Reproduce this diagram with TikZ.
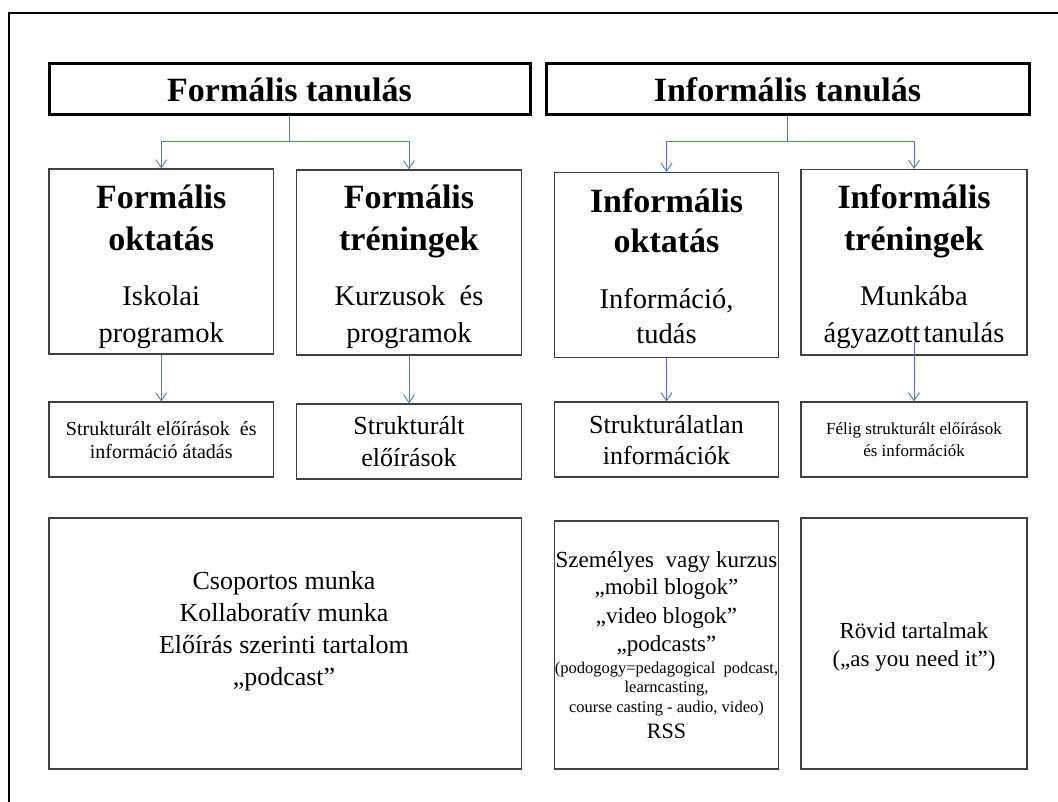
\documentclass[tikz,border=0pt]{standalone}
\usepackage{fontspec}
\setmainfont{Liberation Serif}
\usetikzlibrary{arrows.meta,fit}
\newcommand\fsz[2]{\fontsize{#1}{#2}\selectfont}
\definecolor{boxgray}{HTML}{404040}
\definecolor{arrblue}{HTML}{4A7EBB}
\begin{document}
\begin{tikzpicture}[x=1pt,y=-1pt,
  box/.style={draw=boxgray, line width=1.2pt, inner sep=0pt},
  tbox/.style={draw=black, line width=3pt, inner sep=0pt},
  ln/.style={anchor=base, inner sep=0pt},
  ttl/.style={ln, font=\fsz{34}{40}\bfseries},
  hd/.style={ln, font=\fsz{34}{40}\bfseries},
  sub/.style={ln, font=\fsz{28.5}{34}},
  arr/.style={draw=arrblue, line width=0.9pt, -{Straight Barb[length=8pt,width=11pt,line width=0.9pt]}},
  con/.style={draw=arrblue, line width=0.9pt}]
\useasboundingbox (0,0) rectangle (1058,801);
\fill[white] (0,0) rectangle (1058,801);
% outer frame (left and top edges)
\coordinate (fa) at (9,801);
\coordinate (fb) at (9,13);
\coordinate (fc) at (1058,13);
\draw[line width=2pt, line cap=rect] (fa) -- (fb) -- (fc);

% title boxes
\node[tbox, fit={(49,63)(530,114)}] (t1) {};
\node[tbox, fit={(546,63)(1029,114)}] (t2) {};
\node[ttl] (t1a) at (289.5,101) {Formális tanulás};
\node[ttl] (t2a) at (787.5,101) {Informális tanulás};

% level 2 boxes
\node[box, fit={(49,169)(273.5,354)}] (fo) {};
\node[box, fit={(296.5,170)(521.5,355)}] (ft) {};
\node[box, fit={(554.5,172.5)(778.5,357.5)}] (io) {};
\node[box, fit={(801,169.5)(1027,355)}] (it) {};

\node[hd] (fo1) at (161.25,208) {Formális};
\node[hd] (fo2) at (161.25,250) {oktatás};
\node[sub] (fo3) at (161.25,305) {Iskolai};
\node[sub] (fo4) at (161.25,342) {programok};

\node[hd] (ft1) at (409,208) {Formális};
\node[hd] (ft2) at (409,250) {tréningek};
\node[sub] (ft3) at (409,305) {Kurzusok\ \ és};
\node[sub] (ft4) at (409,342) {programok};

\node[hd] (io1) at (666.5,212) {Informális};
\node[hd] (io2) at (666.5,252) {oktatás};
\node[sub] (io3) at (666.5,308) {Információ,};
\node[sub] (io4) at (666.5,343) {tudás};

\node[hd] (it1) at (914,208) {Informális};
\node[hd] (it2) at (914,250) {tréningek};
\node[sub] (it3) at (914,305) {Munkába};
\node[sub] (it4) at (914,342) {ágyazott\hspace{3.5pt}tanulás};

% level 3 boxes
\node[box, fit={(49,402)(273.5,477)}] (s1) {};
\node[box, fit={(296.5,404)(521.5,479)}] (s2) {};
\node[box, fit={(554.5,402)(778.5,477)}] (s3) {};
\node[box, fit={(801,402)(1027,477)}] (s4) {};

\node[ln, font=\fsz{20}{23}] (s1a) at (161.25,435) {Strukturált előírások\ \ és};
\node[ln, font=\fsz{20}{23}] (s1b) at (161.25,458) {információ átadás};
\node[ln, font=\fsz{26}{32}] (s2a) at (409,434) {Strukturált};
\node[ln, font=\fsz{26}{32}] (s2b) at (409,466) {előírások};
\node[ln, font=\fsz{26}{32}] (s3a) at (666.5,433) {Strukturálatlan};
\node[ln, font=\fsz{26}{32}] (s3b) at (666.5,464) {információk};
\node[ln, font=\fsz{17}{22}] (s4a) at (914,434) {Félig strukturált előírások};
\node[ln, font=\fsz{17}{22}] (s4b) at (914,456) {és információk};

% level 4 boxes
\node[box, fit={(49,518)(521.5,769)}] (bg) {};
\node[box, fit={(554.5,521)(778.5,769)}] (ps) {};
\node[box, fit={(801,518)(1027,769)}] (rv) {};

\node[ln, font=\fsz{26}{32}] (bg1) at (284,589) {Csoportos munka};
\node[ln, font=\fsz{26}{32}] (bg2) at (284,621) {Kollaboratív munka};
\node[ln, font=\fsz{26}{32}] (bg3) at (284,653) {Előírás szerinti tartalom};
\node[ln, font=\fsz{26}{32}] (bg4) at (284,685) {„podcast”};

\node[ln, font=\fsz{23}{28}] (ps1) at (666.5,567) {Személyes\ \ vagy kurzus};
\node[ln, font=\fsz{23}{28}] (ps2) at (666.5,594) {„mobil blogok”};
\node[ln, font=\fsz{23}{28}] (ps3) at (666.5,623) {„video blogok”};
\node[ln, font=\fsz{23}{28}] (ps4) at (666.5,651) {„podcasts”};
\node[ln, font=\fsz{16.5}{20}] (ps5) at (666.5,673) {(podogogy=pedagogical\ \ podcast,};
\node[ln, font=\fsz{16.5}{20}] (ps6) at (666.5,692) {learncasting,};
\node[ln, font=\fsz{16.5}{20}] (ps7) at (666.5,712) {course casting - audio, video)};
\node[ln, font=\fsz{22}{26}] (ps8) at (666.5,738) {RSS};

\node[ln, font=\fsz{23}{28}] (rv1) at (914,638) {Rövid tartalmak};
\node[ln, font=\fsz{23}{28}] (rv2) at (914,666) {(„as you need it”)};

% connectors
\coordinate (j1) at (t1.south |- 0,141);
\coordinate (j2) at (t2.south |- 0,141);
\draw[con] (t1.south) -- (j1);
\draw[arr] (j1) -| (fo.north);
\draw[arr] (j1) -| (ft.north);
\draw[con] (t2.south) -- (j2);
\draw[arr] (j2) -| (io.north);
\draw[arr] (j2) -| (it.north);

\draw[arr] (fo.south) -- (s1.north);
\draw[arr] (ft.south) -- (s2.north);
\draw[arr] (io.south) -- (s3.north);
\coordinate (itx) at (914,342);
\draw[arr] (itx) -- (s4.north);
\end{tikzpicture}
\end{document}
